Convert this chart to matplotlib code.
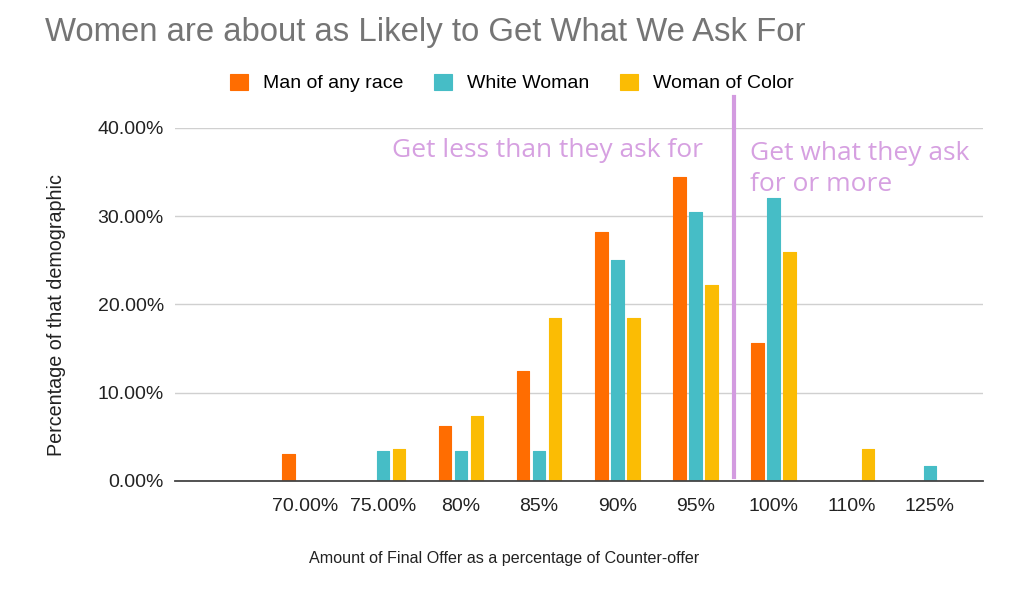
import numpy as np
import matplotlib
matplotlib.use("Agg")
import matplotlib.pyplot as plt
from matplotlib.ticker import FuncFormatter

categories = ["70.00%", "75.00%", "80%", "85%", "90%", "95%", "100%", "110%", "125%"]
series_names = ["Man of any race", "White Woman", "Woman of Color"]
man = [3.1, 0, 6.2, 12.5, 28.2, 34.4, 15.6, 0, 0]
white_woman = [0, 3.4, 3.4, 3.4, 25.0, 30.5, 32.1, 0, 1.7]
woman_of_color = [0, 3.6, 7.4, 18.5, 18.5, 22.2, 25.9, 3.6, 0]
colors = ["#ff6d01", "#46bdc6", "#fbbc04"]
note_color = "#d6a0e1"

plt.rcParams["font.family"] = ["Liberation Sans", "DejaVu Sans"]

fig = plt.figure(figsize=(10.23, 6.06), dpi=100)
ax = fig.add_axes([0.171, 0.2063, 0.79, 0.5825])

x = np.arange(len(categories))
w = 0.16
off = 0.205
for i, (vals, name) in enumerate(zip([man, white_woman, woman_of_color], series_names)):
    ax.bar(x + (i - 1) * off, vals, width=w, color=colors[i], label=name,
           edgecolor=colors[i], linewidth=0.8, joinstyle="round", zorder=3)

ax.set_xlim(-1.66, 8.68)
ax.set_ylim(0, 40)
ax.set_yticks([0, 10, 20, 30, 40])
ax.yaxis.set_major_formatter(FuncFormatter(lambda v, p: f"{v:.2f}%"))
ax.set_xticks(x)
ax.set_xticklabels(categories)
ax.tick_params(axis="both", length=0, labelsize=14, colors="#222222", pad=12)
ax.tick_params(axis="y", pad=8)
ax.grid(axis="y", color="#d0d0d0", lw=1, zorder=0)
for s in ["top", "right", "left"]:
    ax.spines[s].set_visible(False)
ax.spines["bottom"].set_color("#444444")
ax.spines["bottom"].set_linewidth(1.3)
ax.spines["bottom"].set_zorder(4)

fig.text(504 / 1023, 1 - 558 / 606,
         "Amount of Final Offer as a percentage of Counter-offer",
         fontsize=11.6, color="#222222", ha="center", va="center")
fig.text(57 / 1023, 1 - 315 / 606, "Percentage of that demographic",
         fontsize=14.2, color="#222222", ha="center", va="center", rotation=90)

# divider between "less" and "what they ask or more"
ax.plot([5.49, 5.49], [0.45, 43.5], color="#d39be0", lw=3, clip_on=False, zorder=5)
ax.text(5.1, 37.4, "Get less than they ask for", ha="right", va="center",
        fontsize=19, color=note_color, family="Open Sans")
ax.text(5.70, 35.4, "Get what they ask\nfor or more", ha="left", va="center",
        fontsize=19, color=note_color, family="Open Sans", linespacing=1.32)

fig.text(0.044, 1 - 32 / 606, "Women are about as Likely to Get What We Ask For",
         fontsize=23.7, color="#757575", ha="left", va="center")
fig.legend(loc="center", bbox_to_anchor=(512 / 1023, 1 - 83 / 606), ncol=3,
           frameon=False, fontsize=14, handlelength=0.93, handleheight=0.93,
           columnspacing=1.6, handletextpad=0.75)

fig.savefig("out.png", dpi=100)
